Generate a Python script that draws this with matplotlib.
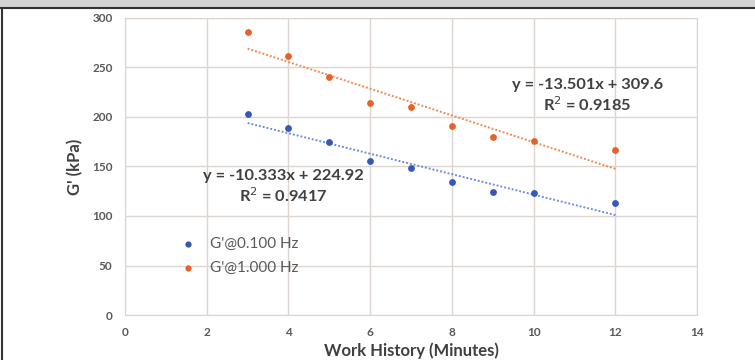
import numpy as np
import matplotlib.pyplot as plt
from matplotlib.patches import Rectangle
from matplotlib.lines import Line2D

plt.rcParams['font.family'] = ['Lato', 'DejaVu Sans']

# G' measurements vs. work history
minutes = [3, 4, 5, 6, 7, 8, 9, 10, 12]
g_01hz = [203.1, 188.7, 174.5, 155.3, 148.5, 134.6, 124.2, 123.2, 113.1]
g_1hz = [285.4, 262.0, 240.6, 214.5, 209.8, 190.6, 179.4, 175.4, 166.7]

# linear trendlines (slope, intercept, R^2)
fit_01hz = (-10.333, 224.92, 0.9417)
fit_1hz = (-13.501, 309.6, 0.9185)

xticks = [0, 2, 4, 6, 8, 10, 12, 14]
yticks = [0, 50, 100, 150, 200, 250, 300]

blue = '#3558b8'
orange = '#e5622a'
grid_c = '#ddd5d0'
txt_c = '#595959'

fig = plt.figure(figsize=(7.55, 3.6), dpi=100)

# grey strip + frame at the top of the figure
fig.patches.append(Rectangle((0, 0.978), 1, 0.022, transform=fig.transFigure,
                             facecolor='#d4d4d4', edgecolor='none', zorder=0))
fig.add_artist(Line2D([0, 1], [0.978, 0.978], transform=fig.transFigure,
                      color='#333333', lw=1.5))
fig.add_artist(Line2D([0.002, 0.002], [0, 0.978], transform=fig.transFigure,
                      color='#333333', lw=1.5))

ax = fig.add_axes([0.1656, 0.125, 0.7577, 0.825])

ax.scatter(minutes, g_01hz, s=15, color=blue, zorder=3, label="G'@0.100 Hz")
ax.scatter(minutes, g_1hz, s=15, color=orange, zorder=3, label="G'@1.000 Hz")

xs = np.array([minutes[0], minutes[-1]])
ax.plot(xs, fit_01hz[0] * xs + fit_01hz[1], ls=(0, (1, 1)), lw=1.4,
        color='#6f8fd6', zorder=2)
ax.plot(xs, fit_1hz[0] * xs + fit_1hz[1], ls=(0, (1, 1)), lw=1.4,
        color='#ee8a55', zorder=2)

ax.set_xlim(0, 14)
ax.set_ylim(0, 300)
ax.set_xticks(xticks)
ax.set_yticks(yticks)
ax.grid(True, color=grid_c, lw=1)
ax.set_axisbelow(True)
for sp in ax.spines.values():
    sp.set_color(grid_c)
ax.tick_params(length=0, labelsize=8.5, labelcolor=txt_c, pad=9)
for lab in ax.get_xticklabels() + ax.get_yticklabels():
    lab.set_fontweight('bold')

ax.set_xlabel('Work History (Minutes)', fontsize=12, fontweight='bold',
              color='#404040', labelpad=3)
ax.set_ylabel("G' (kPa)", fontsize=12, fontweight='bold', color='#404040',
              labelpad=6)

ax.text(3.88, 129, 'y = %.3fx + %.2f\nR$^2$ = %.4f' % fit_01hz,
        ha='center', va='center', fontsize=11.8, fontweight='bold',
        color='#404040', linespacing=1.2)
ax.text(11.31, 221, 'y = %.3fx + %.1f\nR$^2$ = %.4f' % fit_1hz,
        ha='center', va='center', fontsize=11.8, fontweight='bold',
        color='#404040', linespacing=1.2)

leg = ax.legend(loc='center left', bbox_to_anchor=(0.06, 0.2), frameon=False,
                fontsize=11, handletextpad=0.4, labelspacing=0.65,
                markerscale=0.9)
for t in leg.get_texts():
    t.set_color(txt_c)

fig.savefig('out.png', dpi=100)
